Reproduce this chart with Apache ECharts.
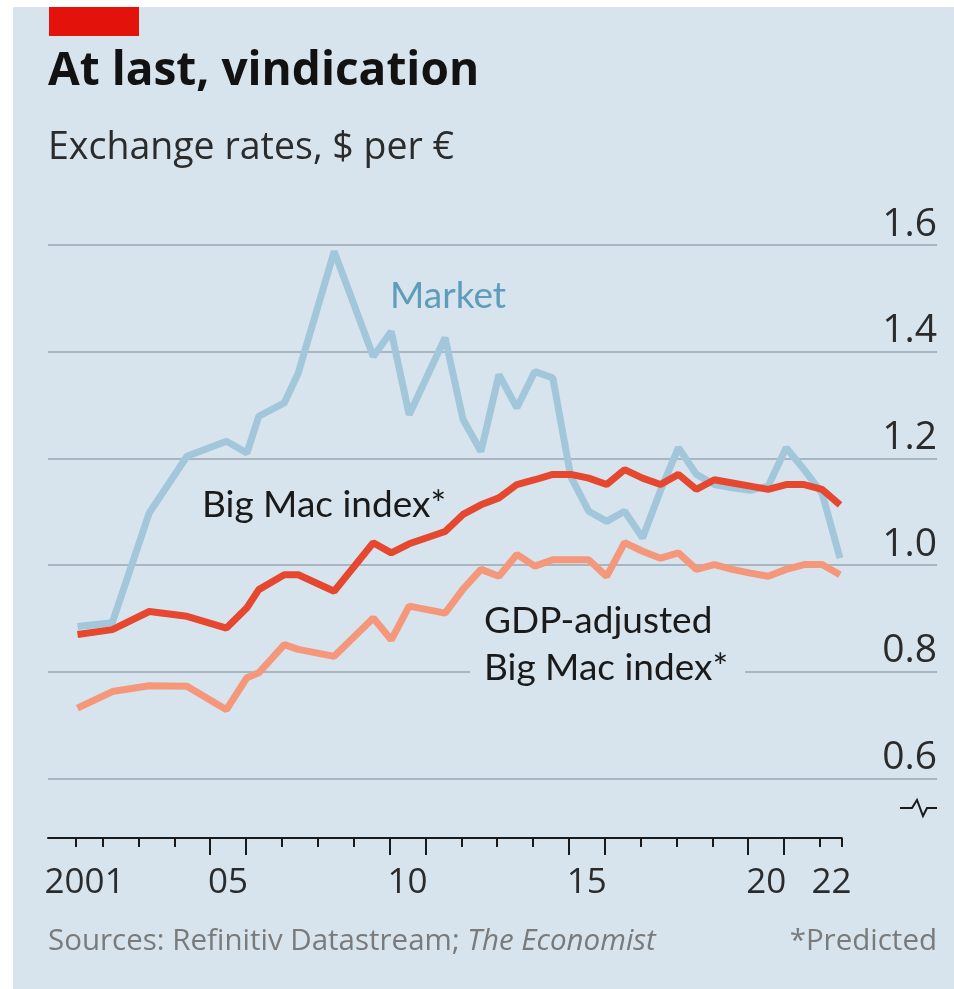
<!DOCTYPE html>
<html>
<head>
<meta charset="utf-8">
<title>At last, vindication</title>
<script src="https://cdn.jsdelivr.net/npm/echarts@6/dist/echarts.min.js"></script>
<style>
    html, body { margin: 0; padding: 0; background: #ffffff; }
    #chart { width: 954px; height: 989px; }
</style>
</head>
<body>
<div id="chart"></div>
<script>
// Data
// ------------------------------

// Big Mac survey dates, as decimal years
var dates = [
    2001.3, 2002.27, 2003.3, 2004.35, 2005.45, 2006.02, 2006.35, 2007.06, 2007.45, 2008.45,
    2009.54, 2010.04, 2010.54, 2011.54, 2012.04, 2012.54, 2013.04, 2013.54, 2014.04, 2014.54,
    2015.04, 2015.54, 2016.04, 2016.54, 2017.04, 2017.54, 2018.04, 2018.54, 2019.04, 2019.54,
    2020.04, 2020.54, 2021.04, 2021.54, 2022.04, 2022.54
];

// $ per euro
var market = [
    0.885, 0.892, 1.098, 1.204, 1.232, 1.210, 1.279, 1.304, 1.360, 1.588,
    1.391, 1.438, 1.282, 1.426, 1.273, 1.213, 1.357, 1.295, 1.363, 1.351,
    1.166, 1.101, 1.082, 1.101, 1.051, 1.140, 1.220, 1.170, 1.151, 1.145,
    1.140, 1.148, 1.220, 1.179, 1.135, 1.013
];

var bigMac = [
    0.870, 0.879, 0.913, 0.904, 0.882, 0.920, 0.954, 0.982, 0.982, 0.951,
    1.042, 1.023, 1.040, 1.063, 1.095, 1.113, 1.126, 1.151, 1.160, 1.170,
    1.170, 1.163, 1.151, 1.179, 1.163, 1.151, 1.170, 1.142, 1.160, 1.154,
    1.148, 1.142, 1.151, 1.151, 1.142, 1.113
];

var gdpAdjusted = [
    0.732, 0.763, 0.774, 0.773, 0.729, 0.789, 0.798, 0.851, 0.842, 0.829,
    0.901, 0.860, 0.923, 0.910, 0.955, 0.992, 0.979, 1.020, 0.998, 1.010,
    1.010, 1.010, 0.979, 1.042, 1.026, 1.013, 1.023, 0.992, 1.001, 0.992,
    0.985, 0.979, 0.992, 1.001, 1.001, 0.982
];

// Axis ticks and labels
var shortTicks = [2001.26, 2002, 2003, 2004, 2007, 2008, 2009, 2012, 2013, 2014, 2017, 2018, 2019, 2022, 2022.6];
var longTicks = [2005, 2006, 2010, 2011, 2015, 2016, 2020, 2021];
var yearLabels = [2001.5, 2005.5, 2010.5, 2015.5, 2020.5, 2022.32];


// Setup
// ------------------------------

var BG = '#d7e4ed';
var LABEL_FONT = 'Lato, "Open Sans", sans-serif';
var WIDE_FONT = '"Open Sans", Lato, sans-serif';

function pairs(values) {
    return dates.map(function(d, i) { return [d, values[i]]; });
}

var chartElement = document.getElementById('chart');
var chart = echarts.init(chartElement, null, { renderer: 'canvas' });

chart.setOption({
    animation: false,
    backgroundColor: '#ffffff',
    textStyle: { fontFamily: LABEL_FONT },

    grid: [
        // plot area
        { left: 48, right: 17, top: 245, height: 533.5 },
        // year axis
        { left: 48, right: 112.3, top: 837, height: 1 }
    ],

    xAxis: [
        {
            gridIndex: 0, type: 'value', min: 2000.479, max: 2025.242,
            axisLine: { show: false }, axisTick: { show: false },
            axisLabel: { show: false }, splitLine: { show: false }
        },
        {
            gridIndex: 1, type: 'value', position: 'bottom', min: 2000.479, max: 2022.606,
            axisLine: { show: true, lineStyle: { color: '#1a1a1a', width: 2 } },
            axisTick: { show: true, customValues: shortTicks, length: 9, lineStyle: { color: '#1a1a1a', width: 2 } },
            axisLabel: { show: false },
            splitLine: { show: false }
        },
        {
            gridIndex: 1, type: 'value', position: 'bottom', min: 2000.479, max: 2022.606,
            axisLine: { show: false },
            axisTick: { show: true, customValues: longTicks, length: 17, lineStyle: { color: '#1a1a1a', width: 2 } },
            axisLabel: {
                show: true,
                customValues: yearLabels,
                margin: 28,
                fontSize: 35,
                color: '#2b2b2b',
                fontFamily: WIDE_FONT,
                formatter: function(v) {
                    var y = Math.floor(v);
                    return y === 2001 ? '2001' : String(y).slice(2);
                }
            },
            splitLine: { show: false }
        }
    ],

    yAxis: [
        {
            gridIndex: 0, type: 'value', min: 0.6, max: 1.6, interval: 0.2,
            position: 'right',
            axisLine: { show: false }, axisTick: { show: false },
            axisLabel: {
                inside: true,
                margin: 0,
                fontSize: 39,
                color: '#2b2b2b',
                fontFamily: WIDE_FONT,
                verticalAlign: 'bottom',
                padding: [0, 0, 1, 0],
                formatter: function(v) { return v.toFixed(1); }
            },
            splitLine: { show: true, lineStyle: { color: '#a7b6c1', width: 2 } }
        },
        {
            gridIndex: 1, type: 'value', min: 0, max: 1, show: false
        }
    ],

    graphic: [
        // panel and tag
        { type: 'rect', z: -10, silent: true, shape: { x: 13, y: 7, width: 941, height: 982 }, style: { fill: BG } },
        { type: 'rect', z: -9, silent: true, shape: { x: 49, y: 7, width: 90, height: 29 }, style: { fill: '#e3120b' } },

        // titles
        { type: 'text', left: 48, top: 49, style: { text: 'At last, vindication', font: 'bold 46px ' + WIDE_FONT, fill: '#121212' } },
        { type: 'text', left: 48, top: 129, style: { text: 'Exchange rates, $ per \u20ac', font: '37.5px ' + WIDE_FONT, fill: '#2b2b2b' } },

        // series labels
        { type: 'text', left: 390, top: 278, style: { text: 'Market', font: '37px ' + LABEL_FONT, fill: '#5e9cbb' } },
        { type: 'text', left: 202, top: 487, style: { text: 'Big Mac index*', font: '37px ' + LABEL_FONT, fill: '#1a1a1a' } },
        { type: 'rect', z: 5, silent: true, shape: { x: 470, y: 600, width: 275, height: 94 }, style: { fill: BG } },
        { type: 'text', z: 6, left: 484, top: 603, style: { text: 'GDP-adjusted', font: '37px ' + LABEL_FONT, fill: '#1a1a1a' } },
        { type: 'text', z: 6, left: 484, top: 650, style: { text: 'Big Mac index*', font: '37px ' + LABEL_FONT, fill: '#1a1a1a' } },

        // axis break mark
        {
            type: 'polyline', silent: true,
            shape: { points: [[900, 808], [912, 808], [917, 800], [923, 816], [927, 808], [937, 808]] },
            style: { stroke: '#1a1a1a', lineWidth: 2, fill: null }
        },

        // footer
        {
            type: 'text', left: 48, top: 927,
            style: {
                text: '{n|Sources: Refinitiv Datastream; }{i|The Economist}',
                rich: {
                    n: { font: '29.5px ' + WIDE_FONT, fill: '#7a7a7a' },
                    i: { font: 'italic 29.5px ' + WIDE_FONT, fill: '#7a7a7a' }
                }
            }
        },
        { type: 'text', right: 17, top: 927, style: { text: '*Predicted', font: '29.5px ' + WIDE_FONT, fill: '#7a7a7a' } }
    ],

    series: [
        {
            name: 'Market', type: 'line', xAxisIndex: 0, yAxisIndex: 0,
            showSymbol: false, z: 2,
            lineStyle: { color: '#a2c7da', width: 7 },
            data: pairs(market)
        },
        {
            name: 'GDP-adjusted Big Mac index', type: 'line', xAxisIndex: 0, yAxisIndex: 0,
            showSymbol: false, z: 3,
            lineStyle: { color: '#f4977b', width: 7 },
            data: pairs(gdpAdjusted)
        },
        {
            name: 'Big Mac index', type: 'line', xAxisIndex: 0, yAxisIndex: 0,
            showSymbol: false, z: 4,
            lineStyle: { color: '#e6472f', width: 7 },
            data: pairs(bigMac)
        }
    ]
});
</script>
</body>
</html>
